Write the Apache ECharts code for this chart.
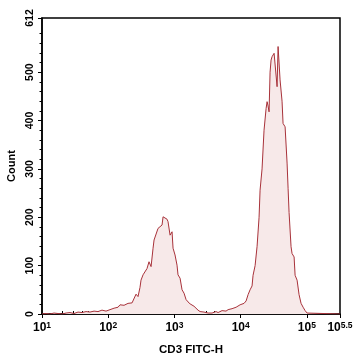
<!DOCTYPE html>
<html lang="en">
<head>
  <meta charset="utf-8"/>
  <title>CD3 FITC-H histogram</title>
  <script src="https://cdn.jsdelivr.net/npm/echarts@6/dist/echarts.min.js"></script>
  <style>
    body { margin: 0; background: #fff; }
    #chart { width: 354px; height: 357px; }
  </style>
</head>
<body>
<div id="chart"></div>
<script>
  // x values are log10 of the FITC channel (10^1 .. 10^5.5)
  var fitcLog = [
    1.000, 1.060, 1.121, 1.181, 1.242, 1.302, 1.363, 1.423, 1.483, 1.544,
    1.604, 1.665, 1.725, 1.785, 1.846, 1.906, 1.967, 2.027, 2.057, 2.088,
    2.118, 2.148, 2.178, 2.208, 2.239, 2.269, 2.299, 2.329, 2.360, 2.390,
    2.420, 2.450, 2.480, 2.495, 2.526, 2.556, 2.586, 2.616, 2.647, 2.677,
    2.692, 2.722, 2.752, 2.782, 2.813, 2.828, 2.858, 2.888, 2.903, 2.934,
    2.964, 2.979, 3.009, 3.039, 3.054, 3.085, 3.115, 3.145, 3.175, 3.205,
    3.236, 3.266, 3.296, 3.326, 3.356, 3.387, 3.417, 3.447, 3.477, 3.508,
    3.538, 3.568, 3.598, 3.628, 3.659, 3.689, 3.719, 3.749, 3.779, 3.810,
    3.840, 3.870, 3.900, 3.931, 3.961, 3.991, 4.021, 4.051, 4.082, 4.112,
    4.142, 4.172, 4.187, 4.218, 4.248, 4.278, 4.293, 4.323, 4.353, 4.384,
    4.399, 4.414, 4.429, 4.444, 4.459, 4.474, 4.489, 4.505, 4.535, 4.550,
    4.565, 4.595, 4.610, 4.625, 4.640, 4.671, 4.701, 4.716, 4.731, 4.761,
    4.776, 4.807, 4.822, 4.852, 4.882, 4.912, 4.943, 4.973, 5.003, 5.033,
    5.500
  ];
  var counts = [
    0, 1, 0, 2, 1, 0, 2, 3, 1, 4,
    3, 5, 4, 6, 5, 8, 6, 9, 7, 12,
    10, 14, 19, 15, 18, 20, 22, 25, 23, 27,
    41, 36, 55, 70, 81, 77, 94, 108, 98, 136,
    153, 156, 177, 178, 184, 201, 205, 196, 191, 163,
    170, 136, 122, 101, 81, 74, 50, 43, 30, 25,
    21, 18, 16, 12, 8, 5, 6, 4, 3, 2,
    1, 2, 1, 5, 3, 4, 7, 5, 6, 9,
    8, 11, 12, 14, 16, 19, 18, 22, 27, 40,
    50, 58, 80, 100, 140, 200, 256, 300, 380, 425,
    439, 430, 418, 500, 525, 532, 529, 539, 539, 470,
    553, 484, 487, 440, 394, 387, 312, 260, 210, 139,
    125, 118, 80, 70, 40, 22, 14, 7, 2, 0,
    0
  ];

  var xMajor = [1, 2, 3, 4, 5, 5.5];
  var xMinor = [];
  for (var n = 1; n <= 4; n++) {
    for (var k = 2; k <= 9; k++) xMinor.push(n + Math.log10(k));
  }
  var yMajor = [0, 100, 200, 300, 400, 500, 612];
  var yMinor = [];
  for (var v = 20; v < 612; v += 20) {
    if (v % 100 !== 0) yMinor.push(v);
  }

  var points = fitcLog.map(function (x, i) { return [x, counts[i]]; });

  var font = '"Liberation Sans", Arial, sans-serif';
  var myChart = echarts.init(document.getElementById('chart'));
  myChart.setOption({
    animation: false,
    grid: {
      left: 42, right: 14, top: 18, bottom: 43,
      outerBoundsMode: 'none', containLabel: false,
      show: true, borderColor: '#000', borderWidth: 1.5
    },
    xAxis: [{
      type: 'value', min: 1, max: 5.5,
      name: 'CD3 FITC-H', nameLocation: 'middle', nameGap: 30,
      nameTextStyle: { fontFamily: font, fontWeight: 'bold', fontSize: 11.5, color: '#000' },
      axisLine: { lineStyle: { color: '#000', width: 1.5 } },
      axisTick: { customValues: xMajor, length: 4, lineStyle: { color: '#000' } },
      splitLine: { show: false },
      axisLabel: {
        customValues: xMajor, margin: 7,
        formatter: function (val) { return '{b|10}{s|' + val + '}'; },
        rich: {
          b: { fontFamily: font, fontWeight: 'bold', fontSize: 12, color: '#000', lineHeight: 14 },
          s: { fontFamily: font, fontWeight: 'bold', fontSize: 8.5, color: '#000', lineHeight: 8, verticalAlign: 'top' }
        }
      }
    }, {
      type: 'value', min: 1, max: 5.5, position: 'bottom',
      axisLine: { show: false },
      axisTick: { customValues: xMinor, inside: true, length: 3, lineStyle: { color: '#000' } },
      axisLabel: { show: false },
      splitLine: { show: false }
    }],
    yAxis: [{
      type: 'value', min: 0, max: 612,
      name: 'Count', nameLocation: 'middle', nameGap: 25,
      nameTextStyle: { fontFamily: font, fontWeight: 'bold', fontSize: 11, color: '#000' },
      axisLine: { show: true, lineStyle: { color: '#000', width: 1.5 } },
      axisTick: { show: true, customValues: yMajor, length: 4, lineStyle: { color: '#000' } },
      splitLine: { show: false },
      axisLabel: {
        customValues: yMajor, rotate: 90, margin: 6,
        fontFamily: font, fontWeight: 'bold', fontSize: 10.5, color: '#000'
      }
    }, {
      type: 'value', min: 0, max: 612, position: 'left',
      axisLine: { show: false },
      axisTick: { show: true, customValues: yMinor, length: 2.5, lineStyle: { color: '#000' } },
      axisLabel: { show: false },
      splitLine: { show: false }
    }],
    series: [{
      type: 'line',
      xAxisIndex: 0, yAxisIndex: 0,
      data: points,
      showSymbol: false,
      lineStyle: { color: '#a8323a', width: 1 },
      areaStyle: { color: '#f7e9e9', opacity: 1 },
      z: 1
    }]
  });
</script>
</body>
</html>
